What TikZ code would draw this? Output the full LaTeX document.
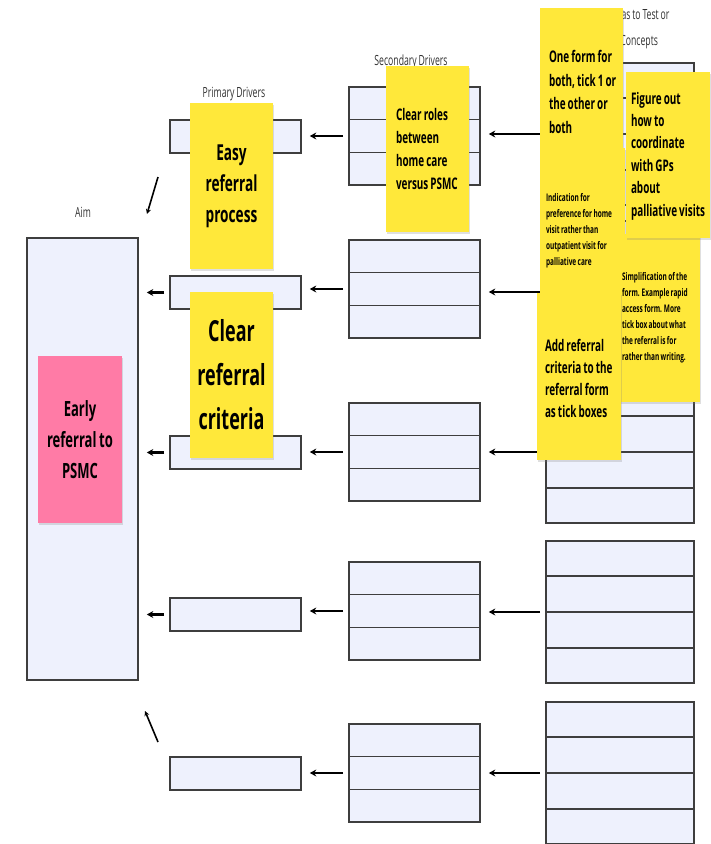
\documentclass[tikz,border=0pt]{standalone}
\usepackage{fontspec}
\setmainfont{Open Sans}[FakeStretch=0.62,WordSpace=0.8]
\usetikzlibrary{arrows.meta,calc,shadows}
\definecolor{cellfill}{RGB}{238,241,253}
\definecolor{notecolor}{RGB}{255,232,58}
\definecolor{pinkcolor}{RGB}{255,123,166}
\definecolor{edgecolor}{RGB}{62,62,62}
\definecolor{labelcolor}{RGB}{50,50,50}
\newcommand{\notebig}{\bfseries\fontsize{22}{31}\selectfont}
\newcommand{\notehuge}{\bfseries\fontsize{29}{44}\selectfont}
\newcommand{\notemid}{\bfseries\fontsize{16}{23}\selectfont}
\newcommand{\notesmall}{\bfseries\fontsize{10.5}{16}\selectfont}
\begin{document}
\begin{tikzpicture}[x=1pt,y=-1pt,
  cell/.style={draw=edgecolor,line width=1.6pt,fill=cellfill,inner sep=0pt},
  cellline/.style={draw=edgecolor,line width=1.6pt},
  arr/.style={-{Stealth[length=6.5pt,width=7pt]},line width=2.6pt,shorten <=5pt,shorten >=8pt},
  diag/.style={-{Stealth[length=5pt,width=5pt]},line width=1.6pt},
  labeltext/.style={text=labelcolor,font=\fontsize{14}{26}\selectfont,inner sep=0pt},
  sticky/.style={fill=notecolor,minimum width=83,minimum height=166,inner sep=0pt,text=black,
    drop shadow={shadow xshift=0.5pt,shadow yshift=-1.5pt,opacity=0.25}},
  notetext/.style={anchor=west,align=left,inner sep=0pt,text=black},
  ]
\useasboundingbox (0,0) rectangle (711,844);
\node[cell,minimum width=111,minimum height=442] (aim) at (82.5,459) {};
\node[labeltext] (aimlbl) at (83,212) {Aim};
\node[labeltext] (prilbl) at (234,94) {Primary Drivers};
\node[labeltext] (seclbl) at (411,62) {Secondary Drivers};
\node[labeltext,align=center] (idealbl) at (623,29) {Change Ideas to Test or\\Change Concepts};
\foreach \i/\py/\sy/\cy in {1/136.5/87/63,2/292.5/240/221,3/452.5/403/381,4/614.5/562/541,5/773.5/724/702}{
  \node[cell,minimum width=131,minimum height=33] (pri\i) at (235.5,\py) {};
  \node[cell,minimum width=131,minimum height=98] (sec\i) at (414.5,\sy+49) {};
  \foreach \k in {1,2}
    \draw[cellline] ($(sec\i.north west)!\k/3!(sec\i.south west)$) -- ($(sec\i.north east)!\k/3!(sec\i.south east)$);
  \node[cell,minimum width=148,minimum height=142] (idea\i) at (620,\cy+71) {};
  \foreach \k in {1,2,3}
    \draw[cellline] ($(idea\i.north west)!\k/4!(idea\i.south west)$) -- ($(idea\i.north east)!\k/4!(idea\i.south east)$);
  \draw[arr] (sec\i.west) -- (sec\i.west -| pri\i.east);
  \draw[arr] (idea\i.west) -- (idea\i.west -| sec\i.east);
}
\foreach \i in {2,3,4}
  \draw[arr] (pri\i.west) -- (pri\i.west -| aim.east);
\coordinate (d1a) at (158,177);
\coordinate (d1b) at (147,214);
\coordinate (d5a) at (158,742);
\coordinate (d5b) at (145,711);
\draw[diag] (d1a) -- (d1b);
\draw[diag] (d5a) -- (d5b);
\node[sticky,fill=pinkcolor,minimum width=84,minimum height=167,align=center,font=\bfseries\fontsize{21}{31}\selectfont] (aimnote) at (80,439.5) {Early\\referral to\\PSMC};
\node[sticky,align=center,font=\notebig] (easy) at (231.5,186) {Easy\\referral\\process};
\node[sticky,align=center,font=\notehuge] (criteria) at (231.5,375) {Clear\\referral\\criteria};
\node[sticky] (roles) at (427.5,149) {};
\node[notetext,font=\notemid] (rolestxt) at ($(roles.west)+(10,0)$) {Clear roles\\between\\home care\\versus PSMC};
\node[sticky,minimum height=168] (oneform) at (581.5,92) {};
\node[notetext,font=\bfseries\fontsize{16}{23.5}\selectfont] (oneformtxt) at ($(oneform.west)+(9,0)$) {One form for\\both, tick 1 or\\the other or\\both};
\node[sticky,minimum width=85] (homevisit) at (582.5,231) {};
\node[notetext,font=\notesmall] (homevisittxt) at ($(homevisit.west)+(6,0)$) {Indication for\\preference for home\\visit rather than\\outpatient visit for\\palliative care};
\node[sticky,minimum height=168] (simplify) at (658.5,318) {};
\node[notetext,font=\notesmall] (simplifytxt) at ($(simplify.west)+(5,0)$) {Simplification of the\\form. Example rapid\\access form. More\\tick box about what\\the referral is for\\rather than writing.};
\node[sticky,minimum width=84] (gps) at (668,155) {};
\node[notetext,font=\bfseries\fontsize{16}{22.4}\selectfont] (gpstxt) at ($(gps.west)+(5,1)$) {Figure out\\how to\\coordinate\\with GPs\\about\\palliative visits};
\node[sticky,minimum width=84,minimum height=167] (tickbox) at (579,376.5) {};
\node[notetext,font=\bfseries\fontsize{16}{22}\selectfont] (tickboxtxt) at ($(tickbox.west)+(8,1.5)$) {Add referral\\criteria to the\\referral form\\as tick boxes};
\end{tikzpicture}
\end{document}
